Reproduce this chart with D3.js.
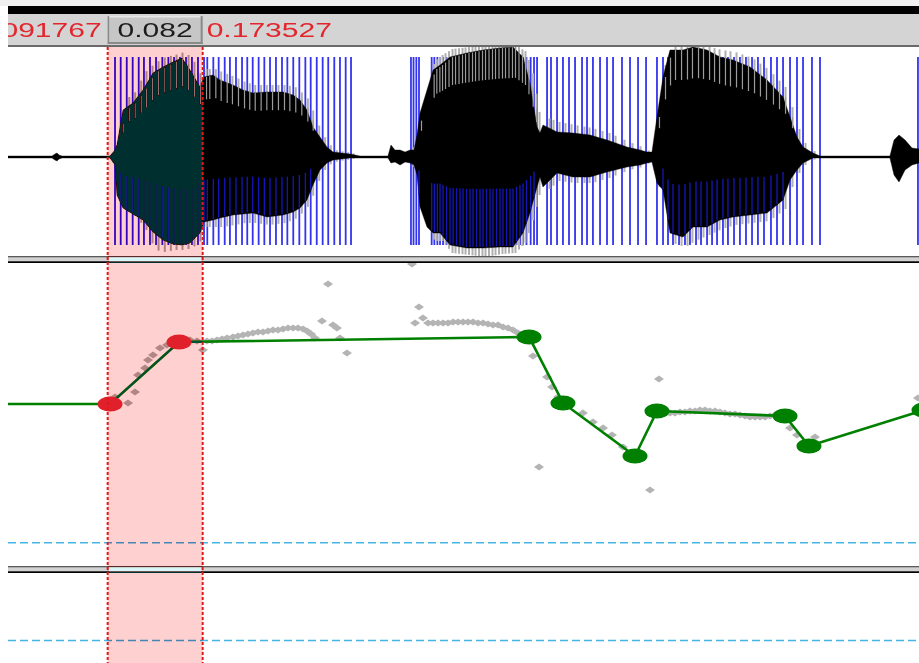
<!DOCTYPE html>
<html>
<head>
<meta charset="utf-8">
<script src="https://cdn.jsdelivr.net/npm/d3@7/dist/d3.min.js"></script>
<style>
  body { margin: 0; background: #fff; }
  svg { display: block; }
</style>
</head>
<body>
<svg id="chart"></svg>
<script>
// selection (s) and visible window (ms)
const selStart = 0.091767
const selEnd = 0.173527
const viewMs = [6, 790]

// glottal pulses (ms)
const pulseMs = [
  98.1, 103.0, 108.2, 113.3, 118.5, 123.0, 128.2, 133.4, 138.8, 144.0, 148.9, 154.0, 159.2, 164.3,
  169.5, 174.7, 177.5, 182.7, 187.3, 192.5, 197.0, 202.2, 207.4, 211.9, 216.6, 221.7, 226.6, 231.5,
  236.6, 241.8, 246.4, 251.5, 256.7, 261.9, 266.5, 271.7, 276.8, 281.6, 286.8, 291.7, 296.6, 301.2,
  352.8, 355.0, 357.4, 359.7, 370.6, 372.9, 375.5, 377.8, 380.4, 383.4, 386.4, 389.0, 392.0, 395.0,
  397.6, 400.6, 403.6, 406.2, 409.2, 412.2, 414.8, 417.8, 420.8, 423.4, 426.4, 429.4, 432.0, 435.0,
  438.0, 440.6, 443.6, 446.6, 449.2, 452.2, 455.8, 458.7, 461.3, 469.9, 473.3, 478.5, 483.6, 488.8,
  494.0, 500.0, 504.3, 509.4, 515.5, 521.5, 526.7, 534.4, 541.3, 548.2, 555.1,
  564.5, 569.7, 574.0, 578.3, 583.5, 588.6, 592.9, 598.1, 602.4, 607.6, 611.9, 616.2, 621.3, 625.6,
  630.8, 635.9, 641.1, 646.3, 651.4, 656.6, 662.6, 667.8, 673.0, 679.0, 685.0, 690.2, 697.9, 704.8,
  789.1
]

// waveform envelope: times (ms) and amplitudes
const waveMs = [
  6.0, 43.9, 46.4, 48.2, 49.9, 52.5, 93.8, 98.1, 99.8, 105.0, 113.6, 122.2, 130.8, 139.4, 148.0,
  155.7, 162.6, 171.2, 174.7, 182.4, 188.4, 199.6, 208.2, 216.8, 228.9, 242.7, 251.3, 257.3, 263.3,
  268.5, 274.5, 280.5, 285.7, 300.3, 309.0, 333.0, 335.6, 339.0, 343.4, 347.7, 352.0, 355.4, 358.0,
  360.6, 366.6, 371.8, 377.8, 386.4, 401.0, 414.8, 429.4, 440.6, 449.2, 455.2, 461.3, 463.8, 466.4,
  478.5, 492.2, 506.9, 521.5, 538.7, 549.9, 555.9, 560.2, 564.5, 569.7, 575.7, 586.9, 595.5, 607.6,
  618.7, 629.9, 644.6, 659.2, 673.0, 679.0, 685.0, 690.2, 698.8, 704.8, 765.0, 768.5, 772.8, 778.0,
  784.0, 790.0
]
const bodyTop = [
  .01, .01, .03, .04, .02, .01, .01, .07, .12, .47, .54, .67, .84, .90, .95,
  .99, .87, .70, .80, .82, .77, .72, .67, .64, .65, .65, .62, .57, .47,
  .30, .20, .10, .05, .03, .01, .01, .12, .07, .07, .05, .07, .07, .22,
  .44, .67, .87, .92, 1.00, 1.04, 1.07, 1.09, 1.10, 1.00, .74, .30, .24, .32,
  .25, .24, .22, .17, .10, .07, .05, .05, .40, .80, 1.07, 1.07, 1.10, 1.07,
  1.00, .97, .90, .77, .60, .40, .20, .10, .04, .01, .01, .17, .22, .17,
  .09, .08
]
const bodyBottom = [
  -.01, -.01, -.03, -.04, -.02, -.01, -.01, -.08, -.38, -.51, -.57, -.63, -.75, -.83, -.87,
  -.88, -.86, -.76, -.65, -.63, -.61, -.58, -.57, -.56, -.60, -.58, -.55, -.51, -.43,
  -.28, -.13, -.06, -.03, -.01, -.01, -.01, -.06, -.05, -.08, -.05, -.06, -.08, -.18,
  -.50, -.70, -.76, -.76, -.88, -.91, -.91, -.90, -.90, -.76, -.56, -.30, -.20, -.30,
  -.16, -.20, -.20, -.15, -.10, -.08, -.06, -.05, -.26, -.33, -.76, -.80, -.70, -.70,
  -.63, -.60, -.58, -.56, -.43, -.23, -.13, -.06, -.01, -.01, -.01, -.18, -.25, -.13,
  -.08, -.06
]
const peakTop = [
  .01, .01, .04, .05, .02, .01, .01, .12, .17, .57, .65, .85, .94, 1.00, 1.02,
  1.05, .99, .80, .88, .88, .85, .80, .75, .72, .72, .72, .70, .64, .57,
  .40, .24, .13, .07, .04, .01, .01, .20, .12, .10, .07, .10, .09, .32,
  .50, .80, .97, 1.02, 1.08, 1.10, 1.11, 1.12, 1.12, 1.06, .88, .45, .40, .40,
  .35, .32, .29, .24, .15, .10, .06, .05, .48, .92, 1.10, 1.11, 1.12, 1.10,
  1.07, 1.05, .99, .87, .70, .50, .28, .14, .05, .01, .01, .22, .27, .19,
  .11, .10
]
const peakBottom = [
  -.01, -.01, -.04, -.05, -.02, -.01, -.01, -.13, -.40, -.53, -.59, -.71, -.93, -.95, -.93,
  -.93, -.91, -.83, -.70, -.70, -.70, -.68, -.66, -.66, -.68, -.66, -.62, -.56, -.48,
  -.33, -.16, -.08, -.05, -.02, -.01, -.01, -.10, -.09, -.10, -.07, -.08, -.15, -.21,
  -.55, -.78, -.84, -.84, -.96, -.98, -1.0, -.97, -.96, -.86, -.66, -.38, -.30, -.35,
  -.24, -.26, -.26, -.21, -.13, -.10, -.06, -.05, -.30, -.40, -.86, -.90, -.84, -.78,
  -.72, -.68, -.66, -.64, -.52, -.30, -.16, -.08, -.02, -.01, -.01, -.25, -.28, -.15,
  -.09, -.08
]

// pitch tier targets
const tierMs = [93.8, 153.2, 454.4, 483.6, 545.6, 564.5, 674.7, 695.3, 794.3]
const tierHz = [184.1, 235.0, 239.2, 184.9, 141.3, 178.3, 174.2, 149.5, 179.1]

// measured pitch (grey)
const pitchMs = [
  98.1, 109.3, 115.3, 117.9, 123.9, 126.5, 130.8, 136.8, 142.8, 149.7, 156.6, 162.6, 168.7, 173.8,
  177.3, 181.6, 185.9, 190.2, 194.5, 199.6, 203.9, 208.2, 212.5, 216.8, 221.2, 225.5, 229.8, 234.1,
  238.4, 242.7, 247.0, 251.3, 255.6, 259.9, 263.3, 266.8, 270.2, 276.2, 281.4, 285.7, 289.1, 291.7,
  297.7,
  353.7, 356.3, 359.7, 363.1, 367.5, 371.8, 376.1, 380.4, 384.7, 389.0, 393.3, 397.6, 401.9, 406.2,
  410.5, 414.8, 419.1, 423.4, 427.7, 432.0, 436.3, 440.6, 444.9, 448.3, 457.8, 463.0, 469.9, 474.2,
  479.3, 500.8, 509.4, 518.1, 525.8, 535.2, 558.5, 566.2,
  571.4, 575.7, 580.0, 584.3, 588.6, 592.9, 597.2, 601.5, 605.8, 610.1, 614.4, 618.7, 623.0, 627.3,
  631.7, 636.0, 640.3, 644.6, 648.9, 653.2, 657.5, 661.8, 666.1, 670.4, 679.0, 685.0, 689.3, 700.5,
  789.1
]
const pitchHz = [
  189.8, 184.9, 193.9, 207.9, 213.7, 220.2, 224.3, 230.1, 232.6, 235.0, 235.9, 236.7, 235.9, 228.5,
  235.9, 235.9, 236.7, 237.5, 238.3, 239.2, 240.0, 240.8, 241.6, 242.4, 243.3, 243.3, 244.1, 244.9,
  244.9, 245.7, 246.6, 246.6, 246.6, 245.7, 244.1, 241.6, 238.3, 252.3, 282.7, 249.0, 246.6, 238.3,
  226.0,
  299.2, 250.7, 263.8, 254.8, 250.7, 250.7, 250.7, 250.7, 250.7, 251.5, 251.5, 251.5, 251.5, 251.5,
  250.7, 250.7, 249.8, 249.0, 249.0, 247.4, 246.6, 244.9, 242.4, 240.8, 223.5, 132.2, 206.3, 198.0,
  189.8, 176.7, 169.2, 164.3, 158.6, 148.7, 113.3, 204.6,
  176.7, 176.7, 176.7, 177.5, 177.5, 178.3, 178.3, 179.1, 179.1, 178.3, 178.3, 177.5, 176.7, 175.8,
  175.8, 175.0, 174.2, 173.4, 173.4, 173.4, 173.4, 174.2, 175.0, 175.0, 164.3, 158.6, 150.3, 156.9,
  189.0
]
const pitchRefHz = 70
const durationRef = 1.0

const W = 919, H = 663
const left = 8
const stretch = 1.54
const wave = {top: 47, bottom: 256}
const pitch = {top: 263, bottom: 566}
const dur = {top: 573, bottom: 663}
const pulseTop = 57, pulseBottom = 245

const x = d3.scaleLinear().domain(viewMs).range([left, W])
const yAmp = d3.scaleLinear().domain([-1, 1]).range([257, 57])
const yHz = d3.scaleLinear().domain([50, 300]).range([567, 263])
const yDur = d3.scaleLinear().domain([0.5, 2.5]).range([663, 573])

const envTop = d3.scaleLinear().domain(waveMs).range(peakTop)
const envBottom = d3.scaleLinear().domain(waveMs).range(peakBottom)
const bodyHigh = d3.scaleLinear().domain(waveMs).range(bodyTop)
const bodyLow = d3.scaleLinear().domain(waveMs).range(bodyBottom)

const sx0 = x(selStart * 1000), sx1 = x(selEnd * 1000)

const svg = d3.select('#chart').attr('width', W).attr('height', H)
const defs = svg.append('defs')
function clip(id, y0, y1) {
  defs.append('clipPath').attr('id', id)
    .append('rect').attr('x', left).attr('y', y0).attr('width', W - left).attr('height', y1 - y0)
}
clip('barClip', 14, 45)
clip('waveClip', wave.top, wave.bottom)
clip('pitchClip', pitch.top, pitch.bottom)
clip('durClip', dur.top, dur.bottom)

svg.append('rect').attr('width', W).attr('height', H).attr('fill', '#fff')

// window chrome
svg.append('rect').attr('width', W).attr('height', 6).attr('fill', '#f0f0f0')
svg.append('rect').attr('x', left).attr('y', 6).attr('width', W - left).attr('height', 8).attr('fill', '#000')
svg.append('rect').attr('x', left).attr('y', 14).attr('width', W - left).attr('height', 31).attr('fill', '#d4d4d4')
svg.append('rect').attr('x', left).attr('y', 45).attr('width', W - left).attr('height', 2).attr('fill', '#6a6a6a')

// waveform + pulses
const gw = svg.append('g').attr('clip-path', 'url(#waveClip)')
gw.append('line')
  .attr('x1', left).attr('x2', W).attr('y1', yAmp(0) + 0.5).attr('y2', yAmp(0) + 0.5)
  .attr('stroke', '#2aa8d8').attr('stroke-dasharray', '1,3')
gw.selectAll('line.pulse')
  .data(pulseMs)
  .join('line').attr('class', 'pulse')
  .attr('x1', d => x(d)).attr('x2', d => x(d))
  .attr('y1', pulseTop).attr('y2', pulseBottom)
  .attr('stroke', '#3434ee').attr('stroke-width', 1.8)
gw.selectAll('line.spike')
  .data(pulseMs)
  .join('line').attr('class', 'spike')
  .attr('x1', d => x(d) + 2.5).attr('x2', d => x(d) + 2.5)
  .attr('y1', d => yAmp(envTop(d))).attr('y2', d => yAmp(envBottom(d)))
  .attr('stroke', '#b0b0b0').attr('stroke-width', 2)
const body = d3.area()
  .x((d, i) => x(waveMs[i]))
  .y0((d, i) => yAmp(bodyBottom[i]))
  .y1((d, i) => yAmp(bodyTop[i]))
gw.append('path')
  .datum(waveMs)
  .attr('d', body)
  .attr('fill', '#000').attr('stroke', '#000').attr('stroke-width', 0.4)
// grey streaks through the upper edge, blue pulses seen through the lower half
gw.selectAll('line.streak')
  .data(pulseMs.filter(d => bodyHigh(d) > 0.3))
  .join('line').attr('class', 'streak')
  .attr('x1', d => x(d) + 2.5).attr('x2', d => x(d) + 2.5)
  .attr('y1', d => yAmp(bodyHigh(d))).attr('y2', d => yAmp(bodyHigh(d) * 0.72))
  .attr('stroke', '#9c9c9c').attr('stroke-width', 1.2)
gw.selectAll('line.through')
  .data(pulseMs.filter(d => bodyLow(d) < -0.3))
  .join('line').attr('class', 'through')
  .attr('x1', d => x(d)).attr('x2', d => x(d))
  .attr('y1', d => yAmp(bodyLow(d) * 0.35)).attr('y2', d => yAmp(bodyLow(d)) - 1)
  .attr('stroke', '#1616b8').attr('stroke-width', 1.3)

// pitch panel
const gp = svg.append('g').attr('clip-path', 'url(#pitchClip)')
gp.append('line')
  .attr('x1', left).attr('x2', W).attr('y1', yHz(pitchRefHz)).attr('y2', yHz(pitchRefHz))
  .attr('stroke', '#45b5e5').attr('stroke-width', 1.5).attr('stroke-dasharray', '8,4')
gp.selectAll('path.f0')
  .data(pitchMs)
  .join('path').attr('class', 'f0')
  .attr('d', 'M0,-3.5L5,0L0,3.5L-5,0Z')
  .attr('transform', (d, i) => `translate(${x(d)},${yHz(pitchHz[i])})`)
  .attr('fill', '#b4b4b4')

const tier = tierMs.map((t, i) => [t, tierHz[i]])
const tierLine = [[viewMs[0], tierHz[0]], ...tier, [Math.max(viewMs[1], tierMs[tierMs.length - 1]) + 10, tierHz[tierHz.length - 1]]]
gp.append('path')
  .datum(tierLine)
  .attr('d', d3.line().x(d => x(d[0])).y(d => yHz(d[1])))
  .attr('fill', 'none').attr('stroke', '#008000').attr('stroke-width', 2.6)
const isSel = d => d[0] >= selStart * 1000 && d[0] <= selEnd * 1000
gp.selectAll('ellipse.pt')
  .data(tier.filter(d => !isSel(d)))
  .join('ellipse').attr('class', 'pt')
  .attr('cx', d => x(d[0])).attr('cy', d => yHz(d[1]))
  .attr('rx', 12.5).attr('ry', 7.5)
  .attr('fill', '#008000')

// duration panel
svg.append('g').attr('clip-path', 'url(#durClip)')
  .append('line')
  .attr('x1', left).attr('x2', W).attr('y1', yDur(durationRef)).attr('y2', yDur(durationRef))
  .attr('stroke', '#45b5e5').attr('stroke-width', 1.5).attr('stroke-dasharray', '8,4')

// separators
const seps = [wave.bottom, pitch.bottom]
seps.forEach(y0 => {
  svg.append('rect').attr('x', left).attr('y', y0).attr('width', W - left).attr('height', 7).attr('fill', '#d2d2d2')
  svg.append('rect').attr('x', left).attr('y', y0).attr('width', W - left).attr('height', 1.3).attr('fill', '#5a5a5a')
  svg.append('rect').attr('x', left).attr('y', y0 + 5.3).attr('width', W - left).attr('height', 1.7).attr('fill', '#000')
})

// selection (inverted colours)
svg.append('rect')
  .attr('x', sx0).attr('y', wave.top).attr('width', sx1 - sx0).attr('height', H - wave.top)
  .attr('fill', '#002f2f')
  .style('mix-blend-mode', 'difference')
seps.forEach(y0 => {
  svg.append('rect').attr('x', sx0 + 1).attr('y', y0 + 1.3).attr('width', sx1 - sx0 - 2).attr('height', 4)
    .attr('fill', '#d8f6f6')
})

svg.append('g').attr('clip-path', 'url(#pitchClip)')
  .selectAll('ellipse')
  .data(tier.filter(isSel))
  .join('ellipse')
  .attr('cx', d => x(d[0])).attr('cy', d => yHz(d[1]))
  .attr('rx', 12.5).attr('ry', 7.5)
  .attr('fill', '#e0202a')

svg.selectAll('line.selEdge')
  .data([sx0, sx1])
  .join('line').attr('class', 'selEdge')
  .attr('x1', d => d).attr('x2', d => d)
  .attr('y1', wave.top).attr('y2', H)
  .attr('stroke', '#e01818').attr('stroke-width', 2).attr('stroke-dasharray', '3,2')

// time bar
const gb = svg.append('g').attr('clip-path', 'url(#barClip)')
gb.append('rect').attr('x', sx0).attr('y', 16).attr('width', sx1 - sx0).attr('height', 28).attr('fill', '#c6c6c6')
gb.append('rect').attr('x', sx0).attr('y', 16).attr('width', sx1 - sx0).attr('height', 1.5).attr('fill', '#e6e6e6')
gb.append('rect').attr('x', sx0).attr('y', 16).attr('width', 1.5).attr('height', 28).attr('fill', '#8a8a8a')
gb.append('rect').attr('x', sx0).attr('y', 42).attr('width', sx1 - sx0).attr('height', 2).attr('fill', '#8a8a8a')
gb.append('rect').attr('x', sx1 - 2).attr('y', 16).attr('width', 2).attr('height', 28).attr('fill', '#8a8a8a')

const fmt = v => v.toFixed(6)
const labels = [
  {text: fmt(selStart), color: '#e3262e', pos: w => sx0 - 6 - w},
  {text: (selEnd - selStart).toFixed(3), color: '#1c1c1c', pos: w => (sx0 + sx1) / 2 - w / 2},
  {text: fmt(selEnd), color: '#e3262e', pos: w => sx1 + 4}
]
labels.forEach(l => {
  const t = gb.append('text')
    .attr('y', 37)
    .attr('font-family', "'Liberation Sans', Arial, sans-serif")
    .attr('font-size', 19.5)
    .attr('fill', l.color)
    .text(l.text)
  const w = t.node().getComputedTextLength() * stretch
  t.attr('x', l.pos(w)).attr('textLength', w).attr('lengthAdjust', 'spacingAndGlyphs')
})
</script>
</body>
</html>
